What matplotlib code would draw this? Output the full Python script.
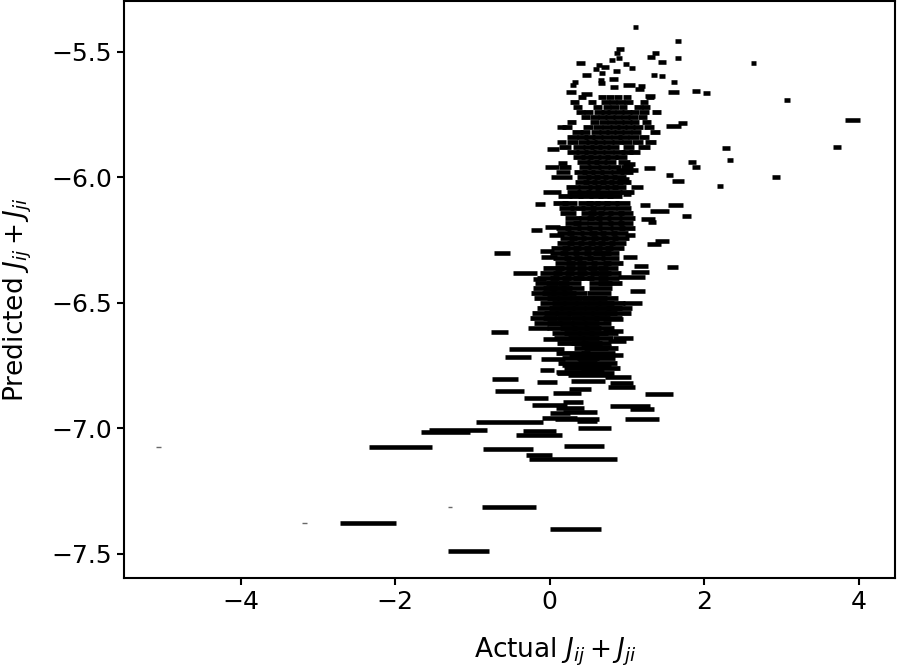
import matplotlib
matplotlib.use('Agg')
import matplotlib.pyplot as plt

# marks read one by one: the sparse top, the right tail and the left/bottom edge
actual = [1.11, 1.66, 0.915, 0.87, 0.895, 0.81, 1.37, 1.31, 1.45, 1.66, 0.40, 0.64, 0.60, 0.72, 0.99, 1.07,
          0.86, 0.68, 0.48, 1.35, 1.45, 0.66, 0.83, 0.33, 0.30, 0.67, 1.03, 1.19, 1.165, 1.605, 0.83, 0.276,
          0.48, 1.605, 1.30, 2.64, 1.89, 2.03, 3.07, 3.92, 3.72, 2.28, 2.33, 2.93, 2.20, 1.89, 1.84, 1.60,
          1.72, 0.155, 0.04, 0.155, 0.03, 0.17, -0.13, 0.03, 0.17, 0.155, 1.29, 1.13, 1.0, 1.24, 1.42, 1.63,
          1.77, 1.27, 1.32, 1.55, 1.66, 1.03, 1.0, 0.95,
          -0.17, 0.04, 0.09, 1.04, 1.45, 1.35, -0.62, -0.03, -0.01, 1.04, 1.18, 1.59, -0.32, 1.17, 1.14,
          1.06, -0.13, 1.07, -0.65, -0.15, 0.82, 0.82, 0.95, 0.87, 0.09, -0.17, -0.41, 0.04, 0.60, 0.60,
          0.48, -0.04, 0.39, 0.52, 0.88, -0.58, -0.04, 0.49, 0.93, 0.93, -0.52, 0.39, 0.22, 1.41, -0.18,
          0.30, 0.0, 0.26, 1.04, 1.20, 0.39, 0.13, 0.13, 0.35, 0.48, -0.52, 1.20, 0.58, -0.13, -0.14,
          -1.19, -1.35, -1.93, -0.54, 0.44, -0.14, 0.30, -0.53, 0.34, -2.35, -1.05]
predicted = [-5.40, -5.455, -5.488, -5.505, -5.525, -5.533, -5.505, -5.52, -5.539, -5.524, -5.545, -5.552,
             -5.568, -5.561, -5.548, -5.565, -5.574, -5.582, -5.59, -5.593, -5.596, -5.612, -5.608, -5.618,
             -5.63, -5.625, -5.63, -5.634, -5.647, -5.62, -5.638, -5.66, -5.667, -5.66, -5.674, -5.544,
             -5.655, -5.663, -5.69, -5.77, -5.88, -5.882, -5.93, -6.0, -6.033, -5.958, -5.94, -5.795,
             -5.783, -5.80, -5.886, -5.86, -5.958, -5.942, -6.106, -6.06, -5.98, -6.0, -5.963, -6.04,
             -6.066, -6.11, -6.133, -6.11, -6.153, -6.165, -6.177, -5.99, -6.014, -5.946, -5.97, -6.006,
             -6.21, -6.197, -6.23, -6.23, -6.255, -6.265, -6.30, -6.293, -6.317, -6.317, -6.353, -6.357,
             -6.38, -6.377, -6.452, -6.396, -6.405, -6.50, -6.615, -6.60, -6.564, -6.61, -6.64, -6.65,
             -6.643, -6.683, -6.715, -6.723, -6.675, -6.707, -6.747, -6.767, -6.775, -6.787, -6.795, -6.803,
             -6.815, -6.81, -6.819, -6.835, -6.851, -6.843, -6.859, -6.863, -6.878, -6.894, -6.906, -6.918,
             -6.91, -6.922, -6.934, -6.938, -6.958, -6.962, -6.97, -6.974, -6.962, -6.998, -7.01, -7.026,
             -7.006, -7.014, -7.074, -7.082, -7.07, -7.106, -7.122, -7.313, -7.40, -7.376, -7.488]
half_width = [0.035, 0.035, 0.05, 0.04, 0.04, 0.04, 0.04, 0.05, 0.05, 0.04, 0.055, 0.04, 0.04, 0.05, 0.04, 0.04,
              0.045, 0.04, 0.06, 0.04, 0.04, 0.04, 0.06, 0.04, 0.04, 0.05, 0.08, 0.05, 0.06, 0.04, 0.05, 0.07,
              0.07, 0.07, 0.06, 0.03, 0.05, 0.05, 0.04, 0.10, 0.05, 0.05, 0.04, 0.05, 0.04, 0.05, 0.05, 0.10,
              0.06, 0.06, 0.08, 0.06, 0.085, 0.06, 0.065, 0.12, 0.09, 0.14, 0.07, 0.08, 0.05, 0.065, 0.12, 0.10,
              0.06, 0.09, 0.05, 0.05, 0.08, 0.08, 0.14, 0.08,
              0.07, 0.10, 0.10, 0.065, 0.09, 0.09, 0.10, 0.09, 0.10, 0.09, 0.09, 0.065, 0.155, 0.12, 0.10,
              0.17, 0.08, 0.12, 0.115, 0.13, 0.13, 0.13, 0.13, 0.12, 0.18, 0.36, 0.17, 0.155, 0.19, 0.35,
              0.32, 0.09, 0.31, 0.285, 0.17, 0.17, 0.13, 0.22, 0.155, 0.17, 0.19, 0.14, 0.18, 0.18, 0.155,
              0.13, 0.23, 0.18, 0.26, 0.155, 0.22, 0.13, 0.23, 0.285, 0.13, 0.44, 0.22, 0.21, 0.21, 0.30,
              0.375, 0.32, 0.41, 0.32, 0.26, 0.17, 0.57, 0.35, 0.33, 0.36, 0.27]

# dense body of the cloud, read row by row
band_predicted = [-5.68, -5.70, -5.72, -5.74, -5.76, -5.78, -5.80, -5.82, -5.84, -5.86, -5.88, -5.90, -5.92,
                  -5.94, -5.96, -5.98, -6.00, -6.02, -6.04, -6.06, -6.075, -6.10, -6.12, -6.14, -6.16, -6.18,
                  -6.20, -6.22, -6.24, -6.26, -6.28, -6.30, -6.32, -6.34, -6.36, -6.38, -6.40, -6.42, -6.44,
                  -6.46, -6.48, -6.50, -6.52, -6.54, -6.56, -6.58, -6.60, -6.62, -6.64, -6.66, -6.68, -6.70,
                  -6.72, -6.74, -6.76, -6.78]
band_err = [0.05, 0.055, 0.055, 0.06, 0.06, 0.06, 0.065, 0.065, 0.07, 0.07, 0.075, 0.075, 0.08,
            0.08, 0.08, 0.085, 0.09, 0.09, 0.09, 0.09, 0.095, 0.095, 0.095, 0.10, 0.10, 0.10,
            0.10, 0.11, 0.11, 0.11, 0.12, 0.12, 0.12, 0.13, 0.13, 0.14, 0.14, 0.15, 0.15,
            0.16, 0.16, 0.17, 0.17, 0.17, 0.18, 0.18, 0.19, 0.19, 0.20, 0.20, 0.22, 0.22,
            0.24, 0.25, 0.25, 0.25]
band_actual = [
    [0.42, 0.68, 0.78, 0.88, 1.0, 1.3],
    [0.32, 0.55, 0.72, 0.82, 0.92, 1.02, 1.22],
    [0.36, 0.62, 0.74, 0.84, 0.95, 1.15, 1.25],
    [0.40, 0.50, 0.64, 0.72, 0.80, 0.90, 1.0, 1.1, 1.22, 1.38],
    [0.46, 0.58, 0.68, 0.78, 0.88, 0.98, 1.08, 1.2],
    [0.28, 0.58, 0.70, 0.80, 0.90, 1.0, 1.1, 1.25],
    [0.22, 0.5, 0.62, 0.74, 0.84, 0.94, 1.04, 1.14, 1.28],
    [0.36, 0.46, 0.6, 0.7, 0.8, 0.9, 1.0, 1.12, 1.36],
    [0.3, 0.42, 0.52, 0.62, 0.74, 0.86, 0.96, 1.08, 1.22],
    [0.3, 0.44, 0.54, 0.64, 0.76, 0.88, 1.0, 1.14, 1.3],
    [0.2, 0.38, 0.5, 0.6, 0.7, 0.82, 1.02, 1.22],
    [0.3, 0.42, 0.52, 0.64, 0.76, 0.9, 1.0, 1.1],
    [0.38, 0.48, 0.58, 0.7, 0.8, 0.92],
    [0.44, 0.56, 0.66, 0.78, 0.96],
    [0.2, 0.46, 0.58, 0.7, 0.84, 1.0],
    [0.4, 0.5, 0.62, 0.74, 0.88, 1.0],
    [0.44, 0.56, 0.66, 0.78, 0.9],
    [0.42, 0.52, 0.64, 0.74, 0.86, 0.96],
    [0.3, 0.46, 0.58, 0.68, 0.8, 0.9],
    [0.32, 0.44, 0.56, 0.68, 0.84, 1.0],
    [0.2, 0.34, 0.46, 0.6, 0.72, 0.84],
    [0.14, 0.26, 0.46, 0.56, 0.68, 0.8, 0.94],
    [0.22, 0.36, 0.5, 0.62, 0.78, 0.96],
    [0.24, 0.5, 0.6, 0.72, 0.86, 0.98],
    [0.3, 0.48, 0.58, 0.7, 0.84, 1.0],
    [0.3, 0.4, 0.58, 0.72, 0.86, 0.98],
    [0.18, 0.3, 0.45, 0.58, 0.72, 0.88, 1.0],
    [0.2, 0.34, 0.5, 0.62, 0.76, 0.9],
    [0.24, 0.36, 0.52, 0.64, 0.78, 0.92],
    [0.2, 0.34, 0.48, 0.6, 0.74, 0.88],
    [0.14, 0.28, 0.42, 0.56, 0.7, 0.84],
    [0.12, 0.26, 0.42, 0.56, 0.68, 0.78],
    [0.16, 0.3, 0.44, 0.6, 0.78],
    [0.2, 0.34, 0.48, 0.66, 0.82],
    [0.05, 0.2, 0.34, 0.48, 0.62, 0.76],
    [0.02, 0.18, 0.34, 0.5, 0.66, 0.78],
    [-0.02, 0.14, 0.3, 0.44, 0.62, 0.76],
    [-0.04, 0.1, 0.26, 0.66, 0.78],
    [-0.06, 0.06, 0.14, 0.3, 0.66],
    [-0.08, 0.06, 0.18, 0.32, 0.64],
    [-0.04, 0.12, 0.26, 0.42, 0.58, 0.72],
    [0.04, 0.2, 0.34, 0.5, 0.66, 0.8],
    [0.0, 0.16, 0.3, 0.46, 0.62, 0.76, 0.9],
    [-0.06, 0.1, 0.24, 0.4, 0.56, 0.7, 0.88],
    [-0.08, 0.1, 0.28, 0.46, 0.6, 0.76],
    [-0.02, 0.14, 0.3, 0.46, 0.62],
    [0.16, 0.32, 0.48, 0.64],
    [0.22, 0.38, 0.56, 0.7],
    [0.26, 0.44, 0.62],
    [0.3, 0.48, 0.6],
    [0.54, 0.66],
    [0.3, 0.62],
    [0.4, 0.6],
    [0.36, 0.62],
    [0.44, 0.66],
    [0.34, 0.58],
]

# three marks so short they show only as a faint tick
faint_actual = [-5.06, -3.17, -1.29]
faint_predicted = [-7.074, -7.376, -7.313]
faint_err = [0.035, 0.03, 0.03]

x_ticks = [-4, -2, 0, 2, 4]
y_ticks = [-7.5, -7.0, -6.5, -6.0, -5.5]

plt.rcParams['font.size'] = 18
plt.rcParams['axes.linewidth'] = 1.5

fig, ax = plt.subplots(figsize=(8.97, 6.7), dpi=100)
fig.subplots_adjust(left=124 / 897, right=895 / 897, top=1 - 1 / 670, bottom=1 - 578 / 670)

ax.errorbar(actual, predicted, xerr=half_width, fmt='none', ecolor='black', elinewidth=3.3)
for y_val, xs, err in zip(band_predicted, band_actual, band_err):
    ax.errorbar(xs, [y_val] * len(xs), xerr=err, fmt='none', ecolor='black', elinewidth=3.45)
ax.errorbar(faint_actual, faint_predicted, xerr=faint_err, fmt='none', ecolor='dimgray', elinewidth=1.0)

ax.set_xlim(-5.51, 4.47)
ax.set_ylim(-7.596, -5.297)
ax.set_xticks(x_ticks)
ax.set_yticks(y_ticks)
ax.tick_params(length=5, width=1.5)
ax.set_xlabel('Actual $J_{ij} + J_{ji}$', fontsize=19)
ax.set_ylabel('Predicted $J_{ij} + J_{ji}$', fontsize=19)
ax.xaxis.set_label_coords(0.559, -0.1)
ax.yaxis.set_label_coords(-0.117, 0.482)

plt.savefig('out.png', dpi=100)
